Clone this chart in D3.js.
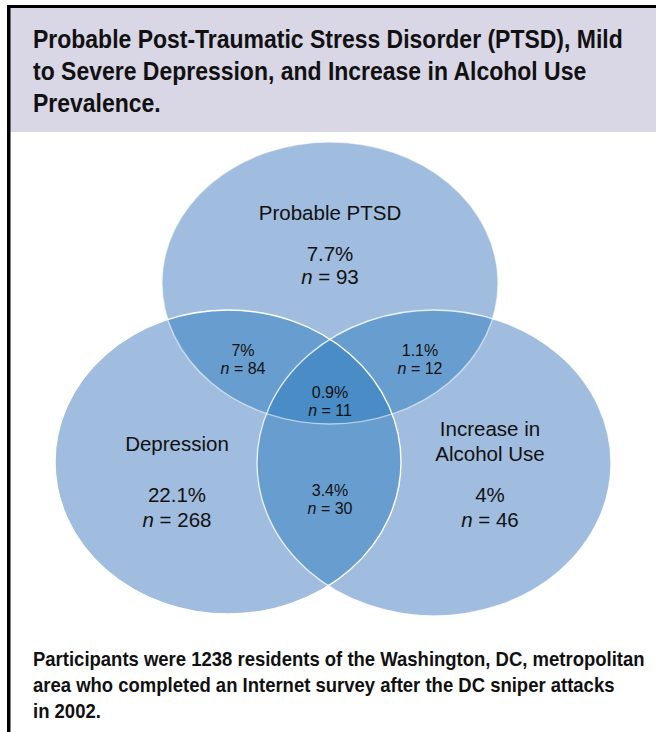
<!DOCTYPE html>
<html>
<head>
<meta charset="utf-8">
<script src="https://cdnjs.cloudflare.com/ajax/libs/d3/7.8.5/d3.min.js"></script>
<style>
  body { margin: 0; background: #fff; }
  svg { display: block; }
</style>
</head>
<body>
<script>
// data
const setNames = [["Probable PTSD"], ["Depression"], ["Increase in", "Alcohol Use"]];
const setPct = ["7.7%", "22.1%", "4%"];
const setN = [93, 268, 46];
const pairSets = [[0, 1], [0, 2], [1, 2]];
const pairPct = ["7%", "1.1%", "3.4%"];
const pairN = [84, 12, 30];
const triplePct = "0.9%";
const tripleN = 11;

const titleLines = [
  "Probable Post-Traumatic Stress Disorder (PTSD), Mild",
  "to Severe Depression, and Increase in Alcohol Use",
  "Prevalence."
];
const noteLines = [
  "Participants were 1238 residents of the Washington, DC, metropolitan",
  "area who completed an Internet survey after the DC sniper attacks",
  "in 2002."
];

const W = 656, H = 732;
const svg = d3.select("body").append("svg")
  .attr("width", W).attr("height", H);

// frame
svg.append("rect").attr("x", 10).attr("y", 7).attr("width", W - 10).attr("height", 125)
  .attr("fill", "#d9d6e6");
svg.append("rect").attr("x", 7).attr("y", 5).attr("width", W - 7).attr("height", 3).attr("fill", "#000");
svg.append("rect").attr("x", 7).attr("y", 5).attr("width", 3.5).attr("height", H - 5).attr("fill", "#000");

// condensed bold text: Liberation Sans Bold squeezed horizontally
const boldFont = "'Liberation Sans', Arial, sans-serif";
function condensedBlock(lines, x0, y0, step, size, firstWidth) {
  const g = svg.append("g");
  const t = g.selectAll("text").data(lines).join("text")
    .attr("x", 0).attr("y", (d, i) => y0 + i * step)
    .attr("font-family", boldFont).attr("font-weight", "bold").attr("font-size", size)
    .attr("fill", "#111")
    .text(d => d);
  const w = t.nodes()[0].getComputedTextLength();
  g.attr("transform", `translate(${x0},0) scale(${firstWidth / w},1)`);
}
condensedBlock(titleLines, 33, 48, 32, 25, 590);
condensedBlock(noteLines, 33, 666, 26, 20, 612);

// venn layout (unit space mapped via scales)
const x = d3.scaleLinear().domain([0, 1]).range([0, W]);
const y = d3.scaleLinear().domain([0, 1]).range([0, H]);
const ell = [
  { cx: 330 / W, cy: 283 / H, rx: 168 / W, ry: 141 / H },
  { cx: 228 / W, cy: 462 / H, rx: 173 / W, ry: 152 / H },
  { cx: 434 / W, cy: 463 / H, rx: 177 / W, ry: 153 / H }
];

const defs = svg.append("defs");
ell.forEach((e, i) => {
  defs.append("clipPath").attr("id", "clip" + i)
    .append("ellipse")
    .attr("cx", x(e.cx)).attr("cy", y(e.cy)).attr("rx", x(e.rx)).attr("ry", y(e.ry));
});

const venn = svg.append("g");
const drawEll = (g, e) => g.append("ellipse")
  .attr("cx", x(e.cx)).attr("cy", y(e.cy)).attr("rx", x(e.rx)).attr("ry", y(e.ry));

ell.forEach(e => drawEll(venn, e).attr("fill", "#a0bcde"));
pairSets.forEach(([a, b]) => {
  const g = venn.append("g").attr("clip-path", `url(#clip${a})`);
  drawEll(g, ell[b]).attr("fill", "#689ecf");
});
{
  const g = venn.append("g").attr("clip-path", "url(#clip0)");
  drawEll(g, ell[2]).attr("clip-path", "url(#clip1)").attr("fill", "#4a8cc6");
}
const strokeOp = [0.55, 1, 0.8];
ell.forEach((e, i) => drawEll(venn, e).attr("fill", "none")
  .attr("stroke", "#fff").attr("stroke-width", 1.4).attr("stroke-opacity", strokeOp[i]));

// labels
const sans = "'Liberation Sans', Arial, Helvetica, sans-serif";
const lab = svg.append("g").attr("font-family", sans).attr("fill", "#111").attr("text-anchor", "middle");

function nLine(g, xp, yp, n, size) {
  const t = g.append("text").attr("x", xp).attr("y", yp).attr("font-size", size);
  t.append("tspan").attr("font-style", "italic").text("n");
  t.append("tspan").text(" = " + n);
}

const setPos = [
  { x: 330, name: 220, pct: 261, n: 284 },
  { x: 177, name: 451, pct: 502, n: 527 },
  { x: 490, name: 436, pct: 502, n: 527 }
];
setNames.forEach((lines, i) => {
  const p = setPos[i];
  lines.forEach((l, j) => lab.append("text").attr("x", p.x).attr("y", p.name + j * 25)
    .attr("font-size", 20.5).text(l));
  lab.append("text").attr("x", p.x).attr("y", p.pct).attr("font-size", 20.5).text(setPct[i]);
  nLine(lab, p.x, p.n, setN[i], 20.5);
});

const pairPos = [{ x: 243, y: 356 }, { x: 420, y: 356 }, { x: 330, y: 496 }];
pairPct.forEach((d, i) => {
  const p = pairPos[i];
  lab.append("text").attr("x", p.x).attr("y", p.y).attr("font-size", 16).text(d);
  nLine(lab, p.x, p.y + 18, pairN[i], 16);
});
lab.append("text").attr("x", 330).attr("y", 398).attr("font-size", 16).text(triplePct);
nLine(lab, 330, 416, tripleN, 16);
</script>
</body>
</html>
